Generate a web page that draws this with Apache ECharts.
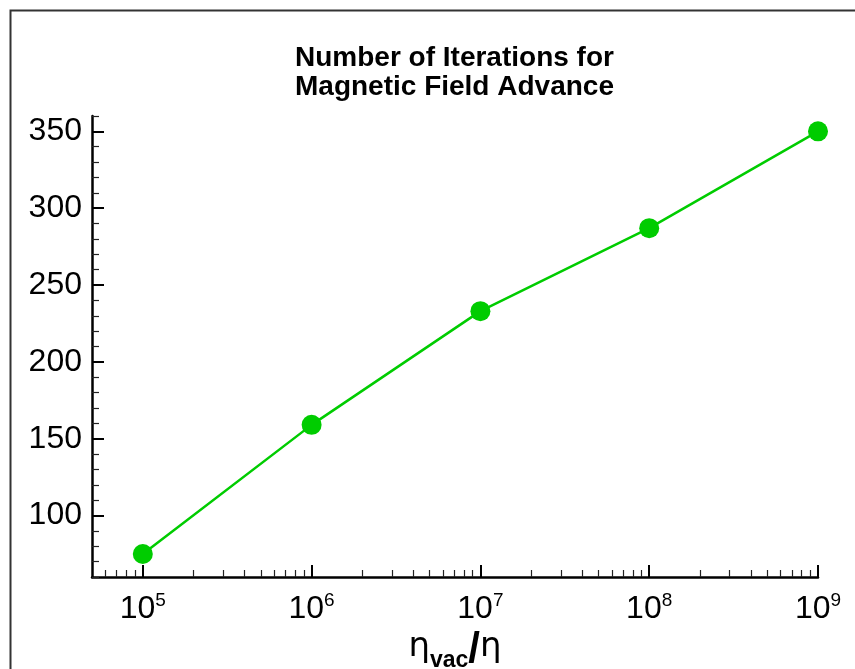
<!DOCTYPE html>
<html><head><meta charset="utf-8">
<script src="https://cdn.jsdelivr.net/npm/echarts@6/dist/echarts.min.js"></script>
<style>html,body{margin:0;padding:0;background:#fff}#c{width:855px;height:669px}</style>
</head><body><div id="c"></div>
<script>
// data
const ratios = [1e5, 1e6, 1e7, 1e8, 1e9];
const iterations = [75, 159, 233, 287, 350];
// tick labels
const xMajorTicks = [1e5, 1e6, 1e7, 1e8, 1e9];
const xExponents = ['5', '6', '7', '8', '9'];
const yMajorTicks = [100, 150, 200, 250, 300, 350];
const yMinorTicks = [60,70,80,90,110,120,130,140,160,170,180,190,210,220,230,240,260,270,280,290,310,320,330,340,360];
const xMinorTicks = [];
[6,7,8,9].forEach(k => xMinorTicks.push(k * 1e4));
[1e5, 1e6, 1e7, 1e8].forEach(d => { for (let k = 2; k <= 9; k++) xMinorTicks.push(k * d); });

const FONT = "'Liberation Sans', Arial, sans-serif";
const chart = echarts.init(document.getElementById('c'), null, {renderer: 'canvas'});
const common = {
  min: 5e4, max: 1e9, splitLine: {show: false}
};
chart.setOption({
  animation: false,
  backgroundColor: '#fff',
  graphic: [{
    type: 'rect', shape: {x: 10.5, y: 10.5, width: 900, height: 700},
    style: {fill: 'none', stroke: '#333', lineWidth: 2}, silent: true
  }],
  title: {
    text: 'Number of Iterations for\nMagnetic Field Advance',
    left: 290, top: 39,
    textStyle: {fontFamily: FONT, fontWeight: 'bold', fontSize: 28, lineHeight: 29, color: '#000'}
  },
  grid: {left: 92, right: 37, top: 116, bottom: 92, containLabel: false, outerBoundsMode: 'none'},
  xAxis: [{
    type: 'log', logBase: 10, ...common, position: 'bottom',
    axisLine: {show: true, onZero: false, lineStyle: {color: '#000', width: 2.5}},
    axisTick: {show: true, inside: true, length: 12, customValues: xMajorTicks, lineStyle: {color: '#000', width: 2}},
    axisLabel: {
      show: true, margin: 14, customValues: xMajorTicks,
      formatter: v => {
        const i = xMajorTicks.findIndex(t => Math.abs(Math.log10(t) - Math.log10(v)) < 1e-6);
        return '{b|10}{s|' + xExponents[i] + '}';
      },
      rich: {
        b: {fontFamily: FONT, fontSize: 32, color: '#000', verticalAlign: 'bottom'},
        s: {fontFamily: FONT, fontSize: 19, color: '#000', verticalAlign: 'bottom', padding: [0, 0, 15, 0]}
      }
    },
    name: '{e|η}{v|vac}{sl|/}{e|η}',
    nameLocation: 'middle', nameGap: 43,
    nameTextStyle: {
      rich: {
        e: {fontFamily: "'DejaVu Sans', sans-serif", fontSize: 34, color: '#000', verticalAlign: 'bottom', padding: [0, 0, 8, 0]},
        v: {fontFamily: FONT, fontWeight: 'bold', fontSize: 23, color: '#000', verticalAlign: 'bottom'},
        sl: {fontFamily: FONT, fontWeight: 'bold', fontSize: 42, color: '#000', verticalAlign: 'bottom'}
      }
    }
  }, {
    type: 'log', logBase: 10, ...common, position: 'bottom',
    axisLine: {show: false},
    axisTick: {show: true, inside: true, length: 7, customValues: xMinorTicks, lineStyle: {color: '#222', width: 1.2}},
    axisLabel: {show: false}
  }],
  yAxis: [{
    type: 'value', min: 60, max: 360, position: 'left', splitLine: {show: false},
    axisLine: {show: true, onZero: false, lineStyle: {color: '#000', width: 2.5}},
    axisTick: {show: true, inside: true, length: 12, customValues: yMajorTicks, lineStyle: {color: '#000', width: 2}},
    axisLabel: {show: true, margin: 10, customValues: yMajorTicks, fontFamily: FONT, fontSize: 32, color: '#000'}
  }, {
    type: 'value', min: 60, max: 360, position: 'left', splitLine: {show: false},
    axisLine: {show: false},
    axisTick: {show: true, inside: true, length: 7, customValues: yMinorTicks, lineStyle: {color: '#222', width: 1.2}},
    axisLabel: {show: false}
  }],
  series: [{
    type: 'line', xAxisIndex: 0, yAxisIndex: 0,
    data: ratios.map((r, i) => [r, iterations[i]]),
    symbol: 'circle', symbolSize: 20,
    lineStyle: {color: '#00cc00', width: 2.5},
    itemStyle: {color: '#00cc00'},
    clip: false
  }]
});
</script></body></html>
